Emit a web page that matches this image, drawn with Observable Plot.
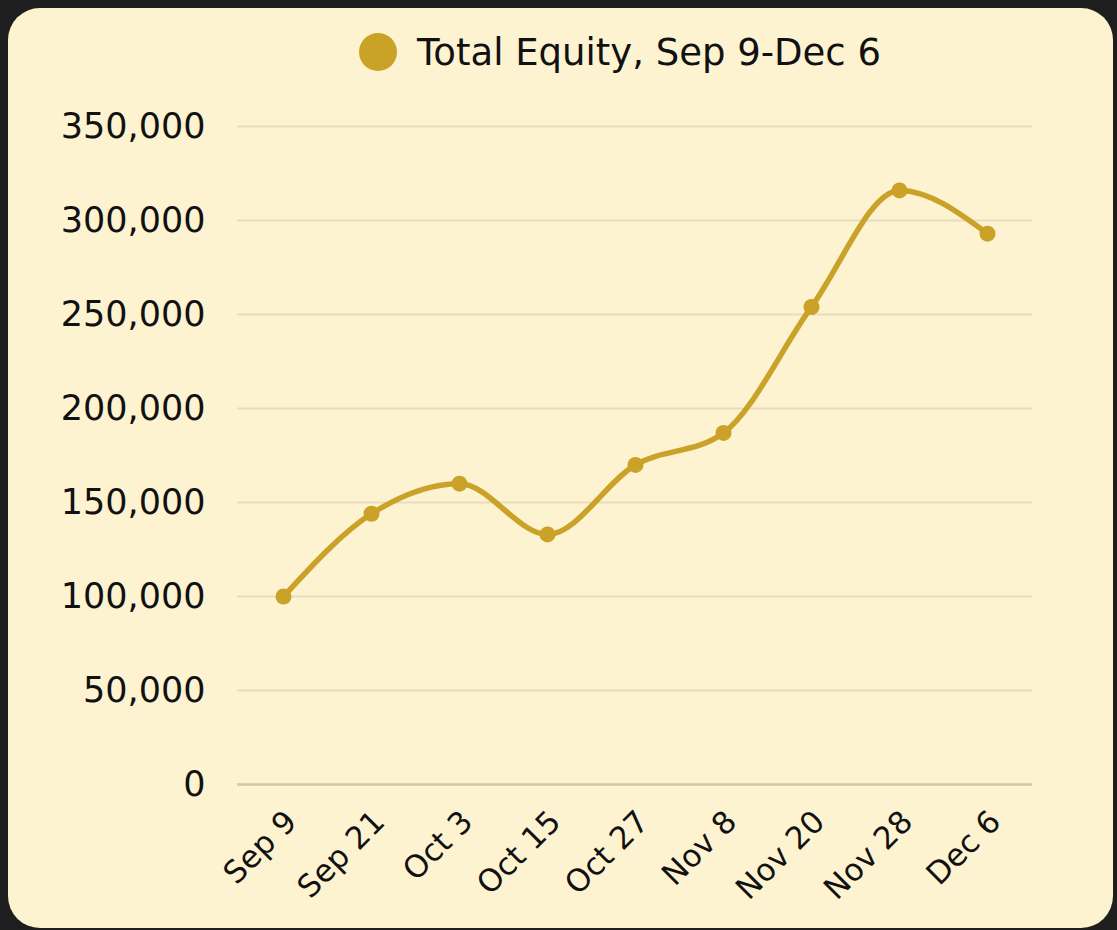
<!DOCTYPE html>
<html>
<head>
<meta charset="utf-8">
<script src="https://cdn.jsdelivr.net/npm/d3@7"></script>
<script src="https://cdn.jsdelivr.net/npm/@observablehq/plot@0.6"></script>
<style>
  html, body { margin: 0; padding: 0; width: 1117px; height: 930px; overflow: hidden; background: #1e1e1e; }
  #card { position: absolute; left: 8px; top: 8px; width: 1105px; height: 920px; border-radius: 32px; background: #fdf3d1; }
  #legend { position: absolute; left: 359px; top: 30px; height: 44px; display: flex; align-items: center; font-family: "DejaVu Sans", sans-serif; font-size: 37px; color: #111; white-space: nowrap; }
  #legend .sw { width: 38px; height: 38px; border-radius: 50%; background: #c9a227; margin-right: 20px; }
  #chart { position: absolute; left: 0; top: 96px; }
</style>
</head>
<body>
<div id="card"></div>
<div id="legend"><span class="sw"></span><span id="legendText"></span></div>
<div id="chart"></div>
<script>
const seriesName = "Total Equity, Sep 9-Dec 6";
const dates = ["Sep 9", "Sep 21", "Oct 3", "Oct 15", "Oct 27", "Nov 8", "Nov 20", "Nov 28", "Dec 6"];
const equity = [100000, 144000, 160000, 133000, 170000, 187000, 254000, 316000, 293000];
const yTicks = [0, 50000, 100000, 150000, 200000, 250000, 300000, 350000];

document.getElementById("legendText").textContent = seriesName;

const data = dates.map((d, i) => ({date: d, value: equity[i]}));
const gold = "#c9a227";

const chart = Plot.plot({
  width: 1117,
  height: 834,
  marginTop: 30,
  marginBottom: 146,
  marginLeft: 237,
  marginRight: 85,
  style: {background: "transparent", fontFamily: "DejaVu Sans, sans-serif", color: "#111", overflow: "visible"},
  x: {type: "point", domain: dates, padding: 0.5, label: null},
  y: {domain: [0, 350000], label: null},
  marks: [
    Plot.gridY(yTicks, {stroke: "#e8ddc0", strokeOpacity: 1, strokeWidth: 2}),
    Plot.ruleY([0], {stroke: "#d3c9ab", strokeWidth: 2.5}),
    Plot.axisY(yTicks, {tickSize: 0, tickPadding: 32, fontSize: 35, tickFormat: d3.format(","), fill: "#111", style: "letter-spacing:2px"}),
    Plot.axisX({tickSize: 0, tickPadding: 30, tickRotate: -45, fontSize: 31, fill: "#111", dx: 8, dy: 2, style: "letter-spacing:1px"}),
    Plot.line(data, {x: "date", y: "value", stroke: gold, strokeWidth: 5.5, curve: "monotone-x"}),
    Plot.dot(data, {x: "date", y: "value", fill: gold, r: 8})
  ]
});
document.getElementById("chart").appendChild(chart);
</script>
</body>
</html>
